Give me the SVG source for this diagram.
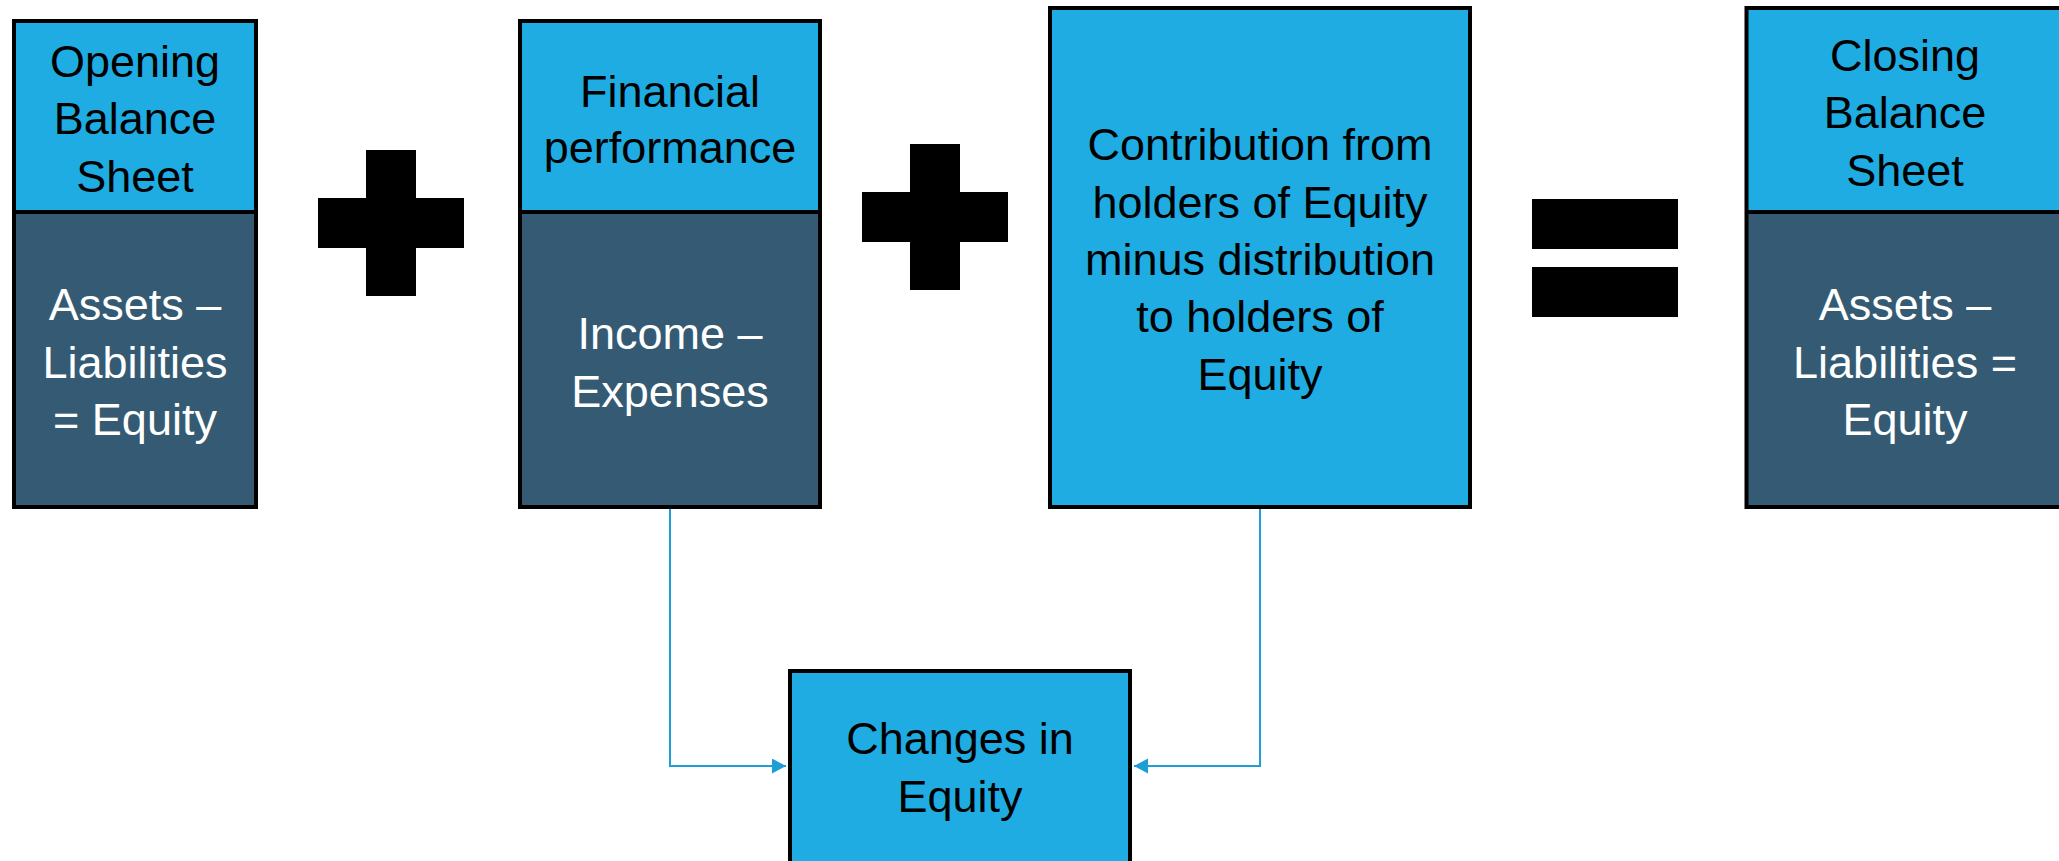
<svg xmlns="http://www.w3.org/2000/svg" width="2059" height="861" viewBox="0 0 2059 861">
  <style>
    .lt { fill: #1EACE2; }
    .dk { fill: #345B73; }
    .bd { fill: none; stroke: #000; stroke-width: 4; }
    .dv { stroke: #000; stroke-width: 4; }
    text { font-family: "Liberation Sans", Arial, sans-serif; font-size: 45px; text-anchor: middle; }
    .tb { fill: #000; }
    .tw { fill: #fff; }
    .sym { fill: #000; }
    .conn { fill: none; stroke: #1D9ED6; stroke-width: 2; }
  </style>
  <defs>
    <marker id="arr" markerUnits="userSpaceOnUse" markerWidth="15" markerHeight="16" refX="14" refY="7.5" orient="auto">
      <path d="M0,0 L14,7.5 L0,15 Z" fill="#1D9ED6"/>
    </marker>
  </defs>
  <rect width="2059" height="861" fill="#fff"/>

  <g id="connectors">
    <path class="conn" d="M670,509 V766 H786" marker-end="url(#arr)"/>
    <path class="conn" d="M1260,509 V766 H1134" marker-end="url(#arr)"/>
  </g>

  <g id="opening">
    <rect class="lt" x="14" y="21" width="242" height="191"/>
    <rect class="dk" x="14" y="212" width="242" height="295"/>
    <line class="dv" x1="14" y1="212" x2="256" y2="212"/>
    <rect class="bd" x="14" y="21" width="242" height="486"/>
    <text class="tb" x="135" y="77">Opening</text>
    <text class="tb" x="135" y="134">Balance</text>
    <text class="tb" x="135" y="192">Sheet</text>
    <text class="tw" x="135" y="320">Assets –</text>
    <text class="tw" x="135" y="378">Liabilities</text>
    <text class="tw" x="135" y="435">= Equity</text>
  </g>

  <g id="plus1">
    <rect class="sym" x="366" y="150" width="50" height="146"/>
    <rect class="sym" x="318" y="198" width="146" height="50"/>
  </g>

  <g id="financial">
    <rect class="lt" x="520" y="21" width="300" height="191"/>
    <rect class="dk" x="520" y="212" width="300" height="295"/>
    <line class="dv" x1="520" y1="212" x2="820" y2="212"/>
    <rect class="bd" x="520" y="21" width="300" height="486"/>
    <text class="tb" x="670" y="107">Financial</text>
    <text class="tb" x="670" y="163">performance</text>
    <text class="tw" x="670" y="349">Income –</text>
    <text class="tw" x="670" y="407">Expenses</text>
  </g>

  <g id="plus2">
    <rect class="sym" x="910" y="144" width="50" height="146"/>
    <rect class="sym" x="862" y="192" width="146" height="50"/>
  </g>

  <g id="contribution">
    <rect class="lt" x="1050" y="8" width="420" height="499"/>
    <rect class="bd" x="1050" y="8" width="420" height="499"/>
    <text class="tb" x="1260" y="160">Contribution from</text>
    <text class="tb" x="1260" y="218">holders of Equity</text>
    <text class="tb" x="1260" y="275">minus distribution</text>
    <text class="tb" x="1260" y="332">to holders of</text>
    <text class="tb" x="1260" y="390">Equity</text>
  </g>

  <g id="equals">
    <rect class="sym" x="1532" y="199" width="146" height="50"/>
    <rect class="sym" x="1532" y="267" width="146" height="50"/>
  </g>

  <g id="closing">
    <rect class="lt" x="1746.5" y="8" width="317" height="204"/>
    <rect class="dk" x="1746.5" y="212" width="317" height="295"/>
    <line class="dv" x1="1746.5" y1="212" x2="2063.5" y2="212"/>
    <rect class="bd" x="1746.5" y="8" width="317" height="499"/>
    <text class="tb" x="1905" y="71">Closing</text>
    <text class="tb" x="1905" y="128">Balance</text>
    <text class="tb" x="1905" y="186">Sheet</text>
    <text class="tw" x="1905" y="320">Assets –</text>
    <text class="tw" x="1905" y="378">Liabilities =</text>
    <text class="tw" x="1905" y="435">Equity</text>
  </g>

  <g id="changes">
    <rect class="lt" x="790" y="671" width="340" height="200"/>
    <rect class="bd" x="790" y="671" width="340" height="200"/>
    <text class="tb" x="960" y="754">Changes in</text>
    <text class="tb" x="960" y="812">Equity</text>
  </g>
</svg>
